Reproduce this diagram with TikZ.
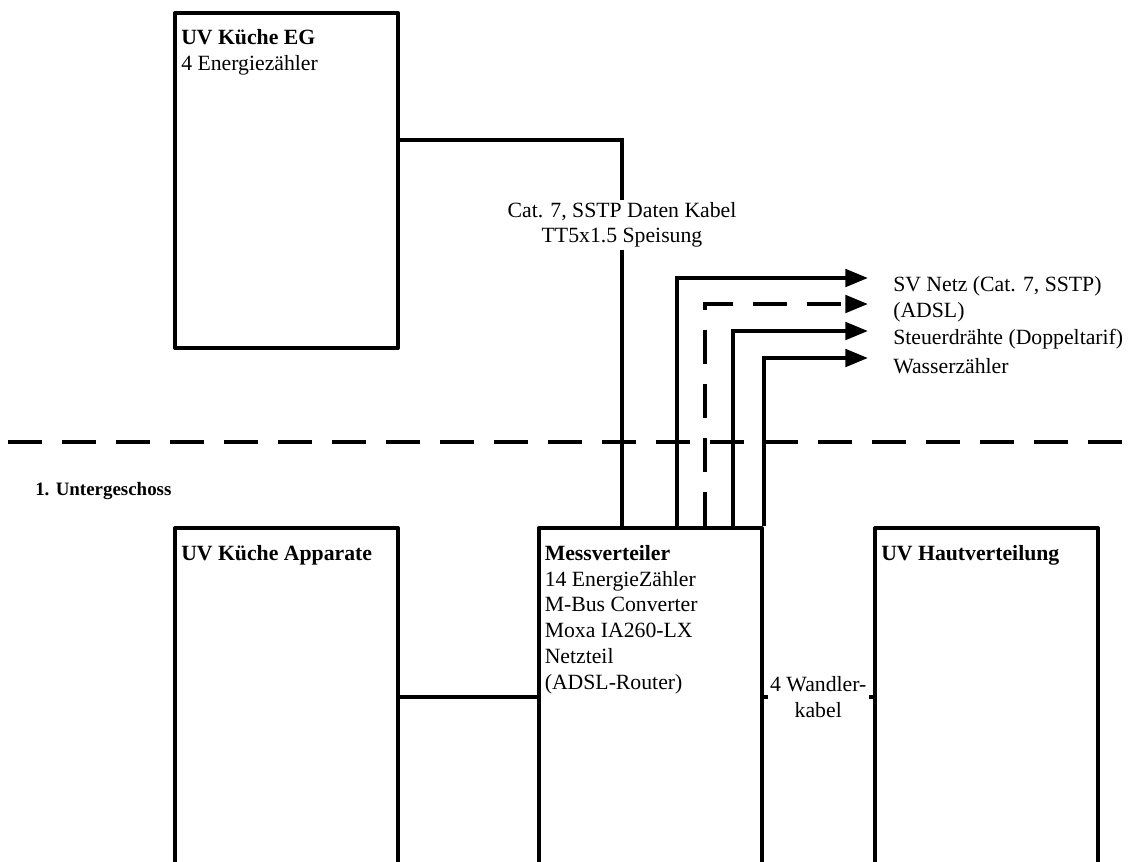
\documentclass[tikz,border=0pt]{standalone}
\usepackage{fontspec}
\setmainfont{Liberation Serif}
\usetikzlibrary{arrows.meta,positioning,calc}

\begin{document}
\begin{tikzpicture}[x=0.75pt, y=-0.75pt, >={Triangle[length=17pt,width=13pt]},
    every node/.style={font=\fontsize{16.3}{19.3}\selectfont},
    box/.style={draw, line width=3pt, line join=round, minimum width=167.25pt, inner sep=0pt},
    boxtext/.style={anchor=north west, align=left, inner sep=0pt},
    cable/.style={line width=3pt},
    longdash/.style={dash pattern=on 25.5pt off 15pt},
    cablelabel/.style={fill=white, align=center, inner sep=2pt},
    outlabel/.style={anchor=west, inner sep=0pt}]
        \useasboundingbox (0,0) rectangle (1134,861);
        \clip (0,0) rectangle (1134,861);

        % Erdgeschoss
        \node[box, minimum height=251.25pt] (kueg) at (286.5,180.5) {};
        \node[boxtext] (kuegtxt) at ([shift={(8,18.5)}]kueg.north west) {\textbf{UV Küche EG}\\4 Energiezähler};

        % Trennlinie
        \draw[cable, longdash] (8,442) -- (1134,442);
        \node[anchor=west, inner sep=0pt, font=\fontsize{14.2}{17}\selectfont] (ug) at (35,491) {\textbf{1. Untergeschoss}};

        % Untergeschoss
        \node[box, minimum height=253.5pt] (kuap) at (286.5,697) {};
        \node[boxtext] (kuaptxt) at ([shift={(8,19)}]kuap.north west) {\textbf{UV Küche Apparate}};
        \node[box, minimum height=253.5pt] (mv) at (650,697) {};
        \node[boxtext] (mvtxt) at ([shift={(8,19)}]mv.north west) {\textbf{Messverteiler}\\14 EnergieZähler\\M-Bus Converter\\Moxa IA260-LX\\Netzteil\\(ADSL-Router)};
        \node[box, minimum height=253.5pt] (hv) at (986.5,697) {};
        \node[boxtext] (hvtxt) at ([shift={(8,19)}]hv.north west) {\textbf{UV Hautverteilung}};

        % Kabel
        \coordinate (catknee) at (622,140);
        \draw[cable] (kueg.east |- catknee) -- (catknee)
            -- node[cablelabel, pos=0.22] (catlabel) {Cat. 7, SSTP Daten Kabel\\TT5x1.5 Speisung} (catknee |- mv.north);
        \draw[cable] (kuap.east) -- (mv.west);
        \draw[cable] (mv.east) -- node[cablelabel] (wandler) {4 Wandler-\\kabel} (hv.west);

        % Ausgaenge nach oben
        \coordinate (svend) at (868,278);
        \coordinate (adslend) at (868,304);
        \coordinate (steuerend) at (868,331);
        \coordinate (wasserend) at (868,358);
        \draw[cable, ->] ([shift={(140,0)}]mv.north west) |- (svend);
        \draw[cable, longdash, ->] ([shift={(168,0)}]mv.north west) |- (adslend);
        \draw[cable, ->] ([shift={(196,0)}]mv.north west) |- (steuerend);
        \draw[cable, ->] (mv.north east) |- (wasserend);
        \node[outlabel] (svtxt) at ([shift={(25,8.5)}]svend) {SV Netz (Cat. 7, SSTP)};
        \node[outlabel] (adsltxt) at ([shift={(25,8.5)}]adslend) {(ADSL)};
        \node[outlabel] (steuertxt) at ([shift={(25,8.5)}]steuerend) {Steuerdrähte (Doppeltarif)};
        \node[outlabel] (wassertxt) at ([shift={(25,8.5)}]wasserend) {Wasserzähler};
      \end{tikzpicture}
\end{document}
